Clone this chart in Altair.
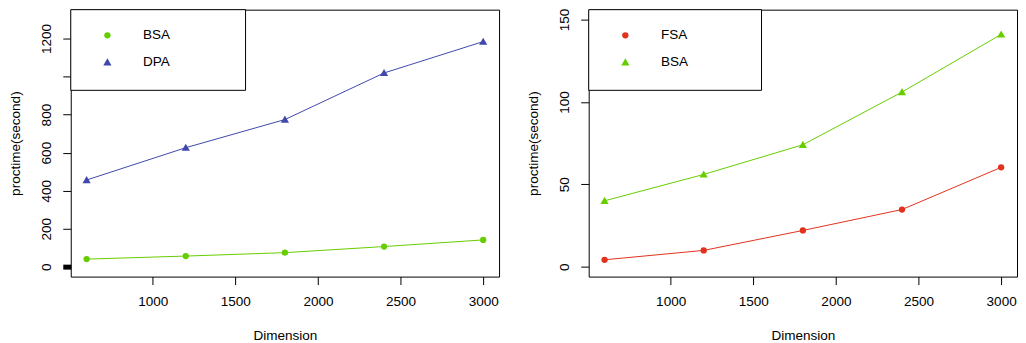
import altair as alt
import pandas as pd

dims = [600, 1200, 1800, 2400, 3000]
bsa_time = [40, 56, 74, 106, 141]
dpa_time = [456, 626, 774, 1019, 1184]
fsa_time = [4.2, 9.9, 22.0, 34.7, 60.3]

left_series = ["BSA", "DPA"]
right_series = ["FSA", "BSA"]
left_colors = ["#66CD00", "#4049AA"]
right_colors = ["#E2311D", "#66CD00"]

x_ticks = [1000, 1500, 2000, 2500, 3000]
left_y_ticks = [0, 200, 400, 600, 800, 1000, 1200]
right_y_ticks = [0, 50, 100, 150]

TRI = "M0,-1.25L1.3,1L-1.3,1Z"
FONT = "Liberation Sans"
FS = 13.6
W, H = 430, 268

left_df = pd.DataFrame({
    "Dimension": dims * 2,
    "time": bsa_time + dpa_time,
    "series": ["BSA"] * 5 + ["DPA"] * 5,
})
right_df = pd.DataFrame({
    "Dimension": dims * 2,
    "time": fsa_time + bsa_time,
    "series": ["FSA"] * 5 + ["BSA"] * 5,
})


def panel(df, order, colors, ydom, yticks, hide_labels, thick_zero, box_w):
    xenc = alt.X("Dimension:Q",
                 scale=alt.Scale(domain=[504, 3096], nice=False, zero=False),
                 axis=alt.Axis(values=x_ticks, title="Dimension", grid=False, format="d",
                               domain=False, tickSize=8, labelPadding=21,
                               labelBaseline="alphabetic", labelFlush=False,
                               titleBaseline="alphabetic", titleY=63.5,
                               labelOverlap=False))
    yaxis = dict(values=yticks, title="proctime(second)", grid=False, format="d",
                 domain=False, tickSize=8, labelPadding=12, labelAngle=270,
                 labelAlign="center", labelBaseline="alphabetic",
                 titleAngle=270, titleAlign="center", titleBaseline="alphabetic",
                 titleX=-51, titleY=H / 2, labelOverlap=False, labelFlush=False)
    if hide_labels:
        cond = " || ".join(f"datum.value == {v}" for v in hide_labels)
        yaxis["labelExpr"] = f"({cond}) ? '' : datum.label"
    if thick_zero:
        yaxis["tickWidth"] = {"condition": {"test": "datum.value == 0", "value": 5}, "value": 1}
    yenc = alt.Y("time:Q", scale=alt.Scale(domain=ydom, nice=False, zero=False),
                 axis=alt.Axis(**yaxis))
    layers = []
    for s, c in zip(order, colors):
        layers.append(
            alt.Chart(df).transform_filter(alt.datum.series == s)
            .mark_line(strokeWidth=1, color=c)
            .encode(x=xenc, y=yenc)
        )
    leg = alt.Legend(title=None, orient="none", legendX=0, legendY=0)
    pts = alt.Chart(df).mark_point(filled=True, size=40, opacity=1).encode(
        x=xenc, y=yenc,
        color=alt.Color("series:N", scale=alt.Scale(domain=order, range=colors), legend=leg),
        shape=alt.Shape("series:N", scale=alt.Scale(domain=order, range=["circle", TRI]),
                        legend=leg),
    )
    layers.append(pts)
    # legend frame (decoration)
    frame = alt.Chart(pd.DataFrame({"k": [0]})).mark_rect(
        fill="white", stroke="black", strokeWidth=1
    ).encode(x=alt.value(0), x2=alt.value(box_w), y=alt.value(0), y2=alt.value(81))
    layers.append(frame)
    return alt.layer(*layers).properties(width=W, height=H)


left = panel(left_df, left_series, left_colors, [-52, 1352], left_y_ticks, [1000], True, 175.5)
right = panel(right_df, right_series, right_colors, [-6, 156], right_y_ticks, [], False, 173.5)

chart = alt.hconcat(left, right, spacing=26).resolve_scale(
    color="independent", shape="independent"
).resolve_legend(color="independent", shape="independent").properties(
    padding={"left": 0, "top": -1, "right": 0, "bottom": 0}
).configure_view(
    stroke="black", strokeWidth=1
).configure_axis(
    labelFont=FONT, titleFont=FONT, labelFontSize=FS, titleFontSize=FS,
    labelColor="black", titleColor="black", tickColor="black",
    titleFontWeight="normal"
).configure_legend(
    labelFont=FONT, labelFontSize=FS, labelColor="black",
    padding=19, symbolSize=40, symbolOffset=11, labelOffset=29, rowPadding=12,
    symbolStrokeWidth=0
)

chart.save("out.html", embed_options={"renderer": "svg", "actions": False})
